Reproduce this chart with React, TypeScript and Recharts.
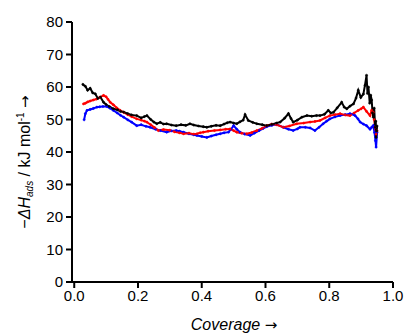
import React from 'react';
import { ComposedChart, Line, XAxis, YAxis } from 'recharts';

const xTicks = [0, 0.2, 0.4, 0.6, 0.8, 1.0];
const yTicks = [0, 10, 20, 30, 40, 50, 60, 70, 80];

const blackSeries: [number, number][] = [
  [0.027,60.8],[0.035,60.2],[0.042,59.0],[0.05,59.6],[0.058,58.2],[0.066,57.9],[0.074,56.5],[0.082,56.9],[0.092,55.3],[0.1,54.6],
  [0.11,54.0],[0.123,53.3],[0.135,53.0],[0.145,52.5],[0.155,52.3],[0.168,51.8],[0.18,51.4],[0.196,51.2],[0.21,50.5],[0.22,50.9],
  [0.228,51.2],[0.24,50.0],[0.25,49.2],[0.259,48.7],[0.27,49.1],[0.28,48.6],[0.29,48.7],[0.305,48.3],[0.32,48.1],[0.335,48.4],
  [0.35,48.2],[0.363,48.7],[0.375,48.3],[0.39,48.0],[0.405,47.8],[0.416,47.6],[0.43,47.9],[0.445,48.2],[0.458,48.1],[0.47,48.6],
  [0.48,49.0],[0.489,49.2],[0.5,48.9],[0.51,48.7],[0.52,49.3],[0.53,49.8],[0.536,51.5],[0.546,49.7],[0.56,49.1],[0.573,48.7],
  [0.59,48.4],[0.604,48.1],[0.62,48.5],[0.635,48.9],[0.646,49.2],[0.66,50.4],[0.672,51.8],[0.68,50.3],[0.687,49.2],[0.7,49.8],
  [0.714,50.7],[0.73,51.2],[0.745,51.0],[0.76,51.2],[0.771,51.2],[0.785,51.6],[0.797,52.8],[0.805,52.0],[0.813,52.2],[0.825,53.6],
  [0.839,55.3],[0.847,53.8],[0.855,53.3],[0.865,54.1],[0.876,54.8],[0.884,56.6],[0.891,59.0],[0.899,56.8],[0.907,57.8],[0.912,60.5],
  [0.917,63.6],[0.92,58.0],[0.923,60.0],[0.927,55.0],[0.93,57.5],[0.933,56.0],[0.936,52.0],[0.938,50.7],[0.941,53.5],[0.944,47.6],
  [0.946,49.5],[0.947,44.5],[0.949,46.5],[0.95,48.0],
];

const redSeries: [number, number][] = [
  [0.029,54.8],[0.035,55.0],[0.042,55.4],[0.05,55.7],[0.06,56.0],[0.07,56.3],[0.08,56.8],[0.092,57.4],[0.1,57.0],[0.106,56.2],
  [0.113,55.3],[0.123,54.5],[0.133,53.6],[0.144,52.8],[0.155,52.2],[0.168,51.5],[0.18,50.9],[0.196,50.2],[0.21,49.8],[0.22,49.5],
  [0.228,49.2],[0.24,48.4],[0.252,47.5],[0.264,46.6],[0.28,46.9],[0.3,46.7],[0.315,46.2],[0.33,45.9],[0.343,45.6],[0.36,45.8],
  [0.375,45.5],[0.385,45.6],[0.395,45.9],[0.405,46.1],[0.42,46.4],[0.44,46.6],[0.458,46.8],[0.475,47.0],[0.489,47.1],[0.5,46.6],
  [0.51,46.1],[0.525,45.8],[0.541,45.6],[0.557,46.0],[0.573,46.6],[0.59,47.3],[0.604,48.1],[0.62,48.6],[0.635,48.4],[0.656,47.6],
  [0.675,48.0],[0.698,48.7],[0.72,48.9],[0.74,49.2],[0.755,49.4],[0.771,49.7],[0.787,50.5],[0.802,51.2],[0.818,51.5],[0.834,51.8],
  [0.85,51.4],[0.865,51.2],[0.878,52.0],[0.891,52.8],[0.9,53.3],[0.907,53.8],[0.917,52.5],[0.928,51.2],[0.933,52.8],[0.938,52.2],
  [0.941,50.0],[0.944,47.6],[0.947,45.5],[0.95,46.5],
];

const blueSeries: [number, number][] = [
  [0.031,49.9],[0.035,51.8],[0.04,52.8],[0.05,53.1],[0.06,53.4],[0.071,53.8],[0.08,53.9],[0.09,54.0],[0.102,54.0],[0.112,53.5],
  [0.123,52.8],[0.135,52.0],[0.145,51.3],[0.155,50.7],[0.168,49.9],[0.18,49.2],[0.196,48.1],[0.21,48.4],[0.225,47.9],[0.238,47.6],
  [0.255,47.0],[0.27,46.6],[0.29,46.1],[0.305,46.5],[0.32,46.6],[0.33,46.4],[0.343,46.1],[0.36,45.6],[0.375,45.3],[0.385,45.1],
  [0.4,44.8],[0.416,44.5],[0.43,44.9],[0.445,45.3],[0.458,45.6],[0.47,45.9],[0.484,46.1],[0.492,47.0],[0.5,48.1],[0.51,47.0],
  [0.52,46.1],[0.535,45.5],[0.552,45.1],[0.565,45.8],[0.58,46.6],[0.592,47.2],[0.604,47.8],[0.62,48.2],[0.635,48.5],[0.656,47.6],
  [0.672,47.0],[0.687,46.6],[0.7,47.1],[0.708,47.6],[0.725,47.6],[0.74,47.4],[0.755,46.6],[0.768,47.6],[0.781,48.7],[0.792,49.5],
  [0.802,50.2],[0.818,50.8],[0.834,51.2],[0.85,51.5],[0.865,51.8],[0.875,51.6],[0.881,51.2],[0.89,50.2],[0.897,49.2],[0.907,48.6],
  [0.917,48.1],[0.928,47.0],[0.933,47.6],[0.938,48.1],[0.942,46.0],[0.945,43.5],[0.947,41.5],[0.95,46.0],
];

const toRows = (s: [number, number][]) => s.map(([x, y]) => ({ x, y }));

const FONT = '"Liberation Sans", Arial, sans-serif';
const ARROW_FONT = '"DejaVu Sans", sans-serif';

const YLabel = () => (
  <text
    x={30}
    y={162}
    transform="rotate(-90 30 162)"
    textAnchor="middle"
    fontFamily={FONT}
    fontSize={16}
    fill="#000"
  >
    <tspan>−</tspan>
    <tspan fontStyle="italic">ΔH</tspan>
    <tspan fontStyle="italic" fontSize={10} dy={3}>ads</tspan>
    <tspan dy={-3}> / kJ mol</tspan>
    <tspan fontSize={10} dy={-6}>-1</tspan>
    <tspan dy={6}> </tspan>
    <tspan fontFamily={ARROW_FONT} fontSize={15}>→</tspan>
  </text>
);

const XLabel = () => (
  <text x={234} y={330} textAnchor="middle" fontFamily={FONT} fontSize={16} fill="#000">
    <tspan fontStyle="italic">Coverage </tspan>
    <tspan fontFamily={ARROW_FONT} fontSize={15}>→</tspan>
  </text>
);

const dotFor = (color: string) => ({ r: 1.1, fill: color, stroke: color, strokeWidth: 0.5 });

export default function App() {
  const tickStyle = { fontFamily: FONT, fontSize: 15, fill: '#000' };
  return (
    <div style={{ position: 'absolute', left: 0, top: 0, width: 407, height: 333, background: '#fff' }}>
      <ComposedChart width={407} height={333} margin={{ top: 22, right: 14, left: 0, bottom: 0 }}>
        <XAxis
          type="number"
          dataKey="x"
          domain={[-0.007, 1]}
          ticks={xTicks}
          tickFormatter={(v: number) => v.toFixed(1)}
          allowDataOverflow
          height={51}
          tick={tickStyle}
          tickSize={6}
          axisLine={{ stroke: '#000', strokeWidth: 2 }}
          tickLine={{ stroke: '#000', strokeWidth: 2 }}
        />
        <YAxis
          type="number"
          dataKey="y"
          domain={[0, 80]}
          ticks={yTicks}
          width={72}
          tick={tickStyle}
          tickSize={6}
          tickMargin={3}
          axisLine={{ stroke: '#000', strokeWidth: 2 }}
          tickLine={{ stroke: '#000', strokeWidth: 2 }}
        />
        <Line data={toRows(blueSeries)} dataKey="y" stroke="#0000ff" strokeWidth={2} dot={dotFor('#0000ff')} isAnimationActive={false} />
        <Line data={toRows(redSeries)} dataKey="y" stroke="#ff0000" strokeWidth={2} dot={dotFor('#ff0000')} isAnimationActive={false} />
        <Line data={toRows(blackSeries)} dataKey="y" stroke="#000000" strokeWidth={2} dot={dotFor('#000000')} isAnimationActive={false} />
        <YLabel />
        <XLabel />
      </ComposedChart>
    </div>
  );
}
